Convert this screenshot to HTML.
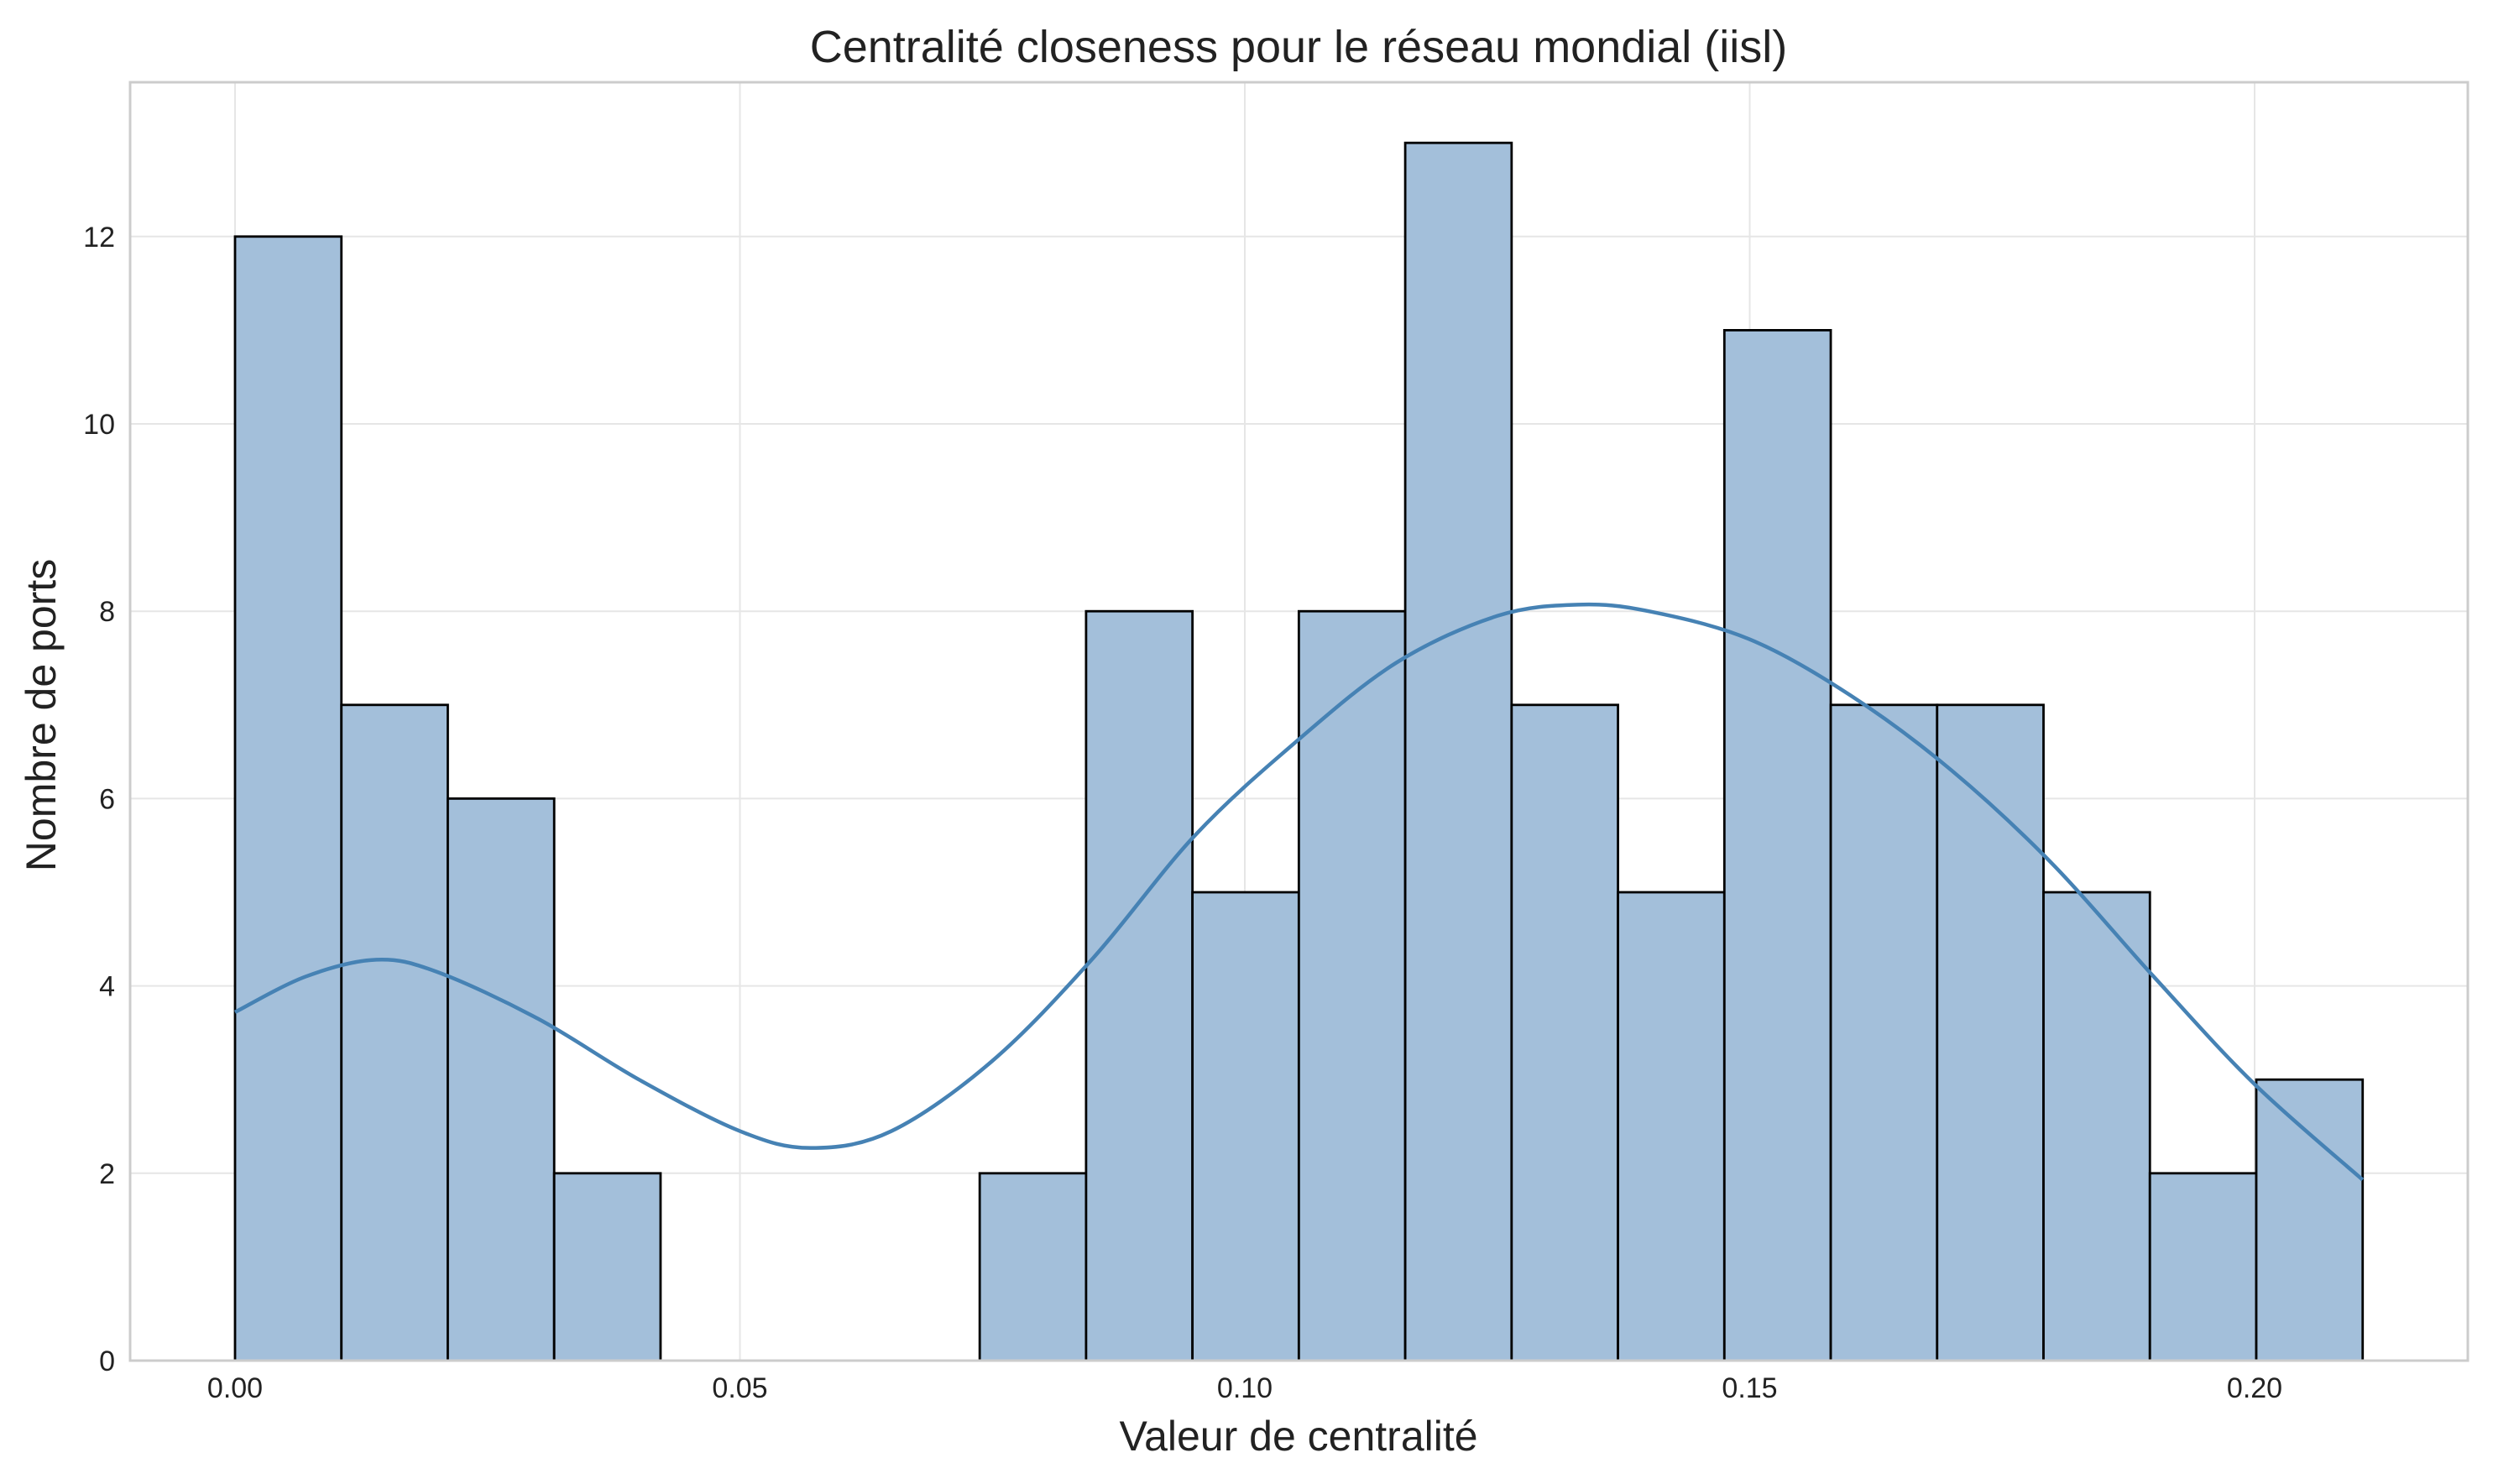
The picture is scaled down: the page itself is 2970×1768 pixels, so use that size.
<!DOCTYPE html>
<html><head><meta charset="utf-8">
<style>
html,body{margin:0;padding:0;background:#fff;}
svg{display:block;font-family:"Liberation Sans",Arial,sans-serif;}
</style></head>
<body>
<svg id="chart" width="2970" height="1768" viewBox="0 0 2970 1768" xmlns="http://www.w3.org/2000/svg">
<rect x="0" y="0" width="2970" height="1768" fill="#fff"/>
<text x="1547" y="74" font-size="54" text-anchor="middle" fill="#222">Centralité closeness pour le réseau mondial (iisl)</text>
<g id="grid"></g>
<g id="bars"></g>
<path id="kde" fill="none" stroke="#4682b4" stroke-width="4.5"/>
<rect x="155" y="98" width="2785" height="1523" fill="none" stroke="#cccccc" stroke-width="3"/>
<g id="ticks"></g>
<text x="1547" y="1728" font-size="50" text-anchor="middle" fill="#222">Valeur de centralité</text>
<text transform="translate(66,852) rotate(-90)" font-size="50" text-anchor="middle" fill="#222">Nombre de ports</text>
</svg>
<script>
const binCounts=[12,7,6,2,0,0,0,2,8,5,8,13,7,5,11,7,7,5,2,3];
const binStart=0.0;
const binEnd=0.2107;
const kdeX=[0,0.007,0.014,0.02,0.03,0.04,0.05,0.057,0.065,0.075,0.085,0.095,0.105,0.115,0.125,0.133,0.14,0.15,0.16,0.17,0.18,0.19,0.2,0.2107];
const kdeY=[3.72,4.1,4.28,4.15,3.65,3.0,2.45,2.27,2.45,3.2,4.3,5.6,6.6,7.45,7.95,8.07,8.0,7.7,7.1,6.3,5.3,4.1,2.95,1.93];
const xTicks=[0,0.05,0.10,0.15,0.20];
const xTickLabels=["0.00","0.05","0.10","0.15","0.20"];
const yTicks=[0,2,4,6,8,10,12];
const yTickLabels=["0","2","4","6","8","10","12"];
const NS="http://www.w3.org/2000/svg";
const X=v=>280+v*12030;
const Y=v=>1621-v*111.6;
function mk(t,a,p){const e=document.createElementNS(NS,t);for(const k in a)e.setAttribute(k,a[k]);p.appendChild(e);return e;}
const grid=document.getElementById('grid'),bars=document.getElementById('bars'),ticks=document.getElementById('ticks');
xTicks.forEach((v,i)=>{
 const l=mk('line',{x1:X(v),x2:X(v),y1:98,y2:1621,stroke:'#e6e6e6','stroke-width':2},grid);
 
 
 const t=mk('text',{x:X(v),y:1665,'font-size':34,'text-anchor':'middle',fill:'#222'},ticks);
 t.textContent=xTickLabels[i];
 
 
});
yTicks.forEach((v,i)=>{
 const l=mk('line',{x1:155,x2:2940,y1:Y(v),y2:Y(v),stroke:'#e6e6e6','stroke-width':2},grid);
 
 
 const t=mk('text',{x:137,y:Y(v)+12,'font-size':34,'text-anchor':'end',fill:'#222'},ticks);
 t.textContent=yTickLabels[i];
 
 
});
const w=(binEnd-binStart)/binCounts.length;
binCounts.forEach((c,i)=>{
 if(c<=0)return;
 const x0=X(binStart+i*w),x1=X(binStart+(i+1)*w);
 const r=mk('rect',{x:x0,y:Y(c),width:x1-x0,height:Y(0)-Y(c),fill:'#a3bfda',stroke:'#000','stroke-width':2.8},bars);
 
 
});
const pts=kdeX.map((x,i)=>[X(x),Y(kdeY[i])]);
let d='M'+pts[0][0]+','+pts[0][1];
for(let i=0;i<pts.length-1;i++){
 const p0=pts[Math.max(0,i-1)],p1=pts[i],p2=pts[i+1],p3=pts[Math.min(pts.length-1,i+2)];
 d+=' C'+(p1[0]+(p2[0]-p0[0])/6)+','+(p1[1]+(p2[1]-p0[1])/6)+' '+(p2[0]-(p3[0]-p1[0])/6)+','+(p2[1]-(p3[1]-p1[1])/6)+' '+p2[0]+','+p2[1];
}
document.getElementById('kde').setAttribute('d',d);
</script>
</body></html>
